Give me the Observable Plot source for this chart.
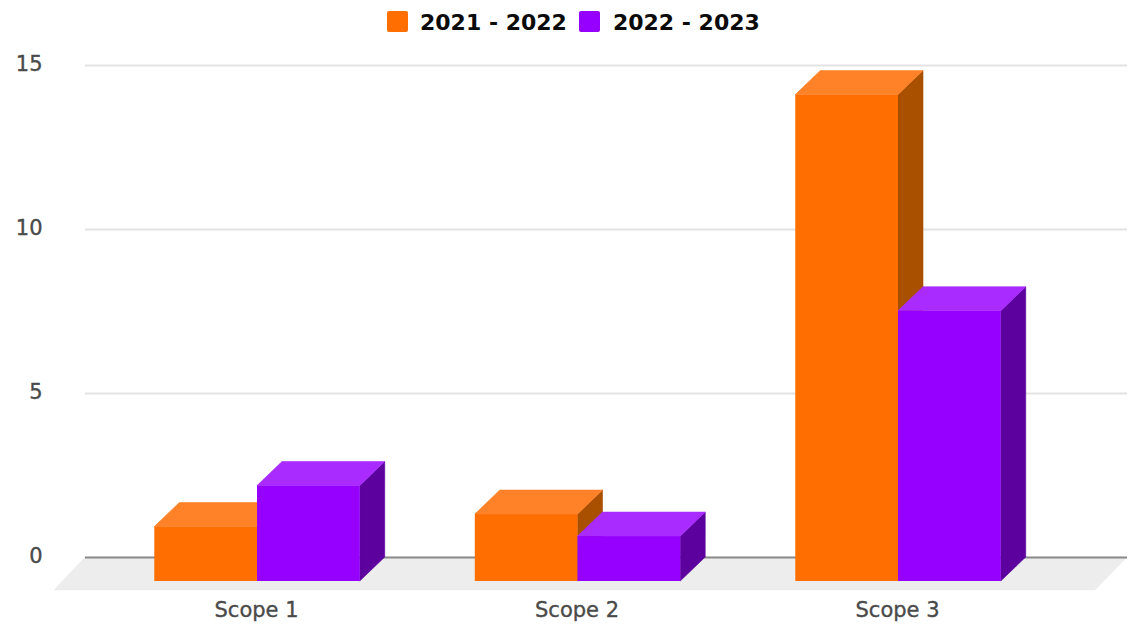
<!DOCTYPE html>
<html>
<head>
<meta charset="utf-8">
<script src="https://cdn.jsdelivr.net/npm/d3@7"></script>
<script src="https://cdn.jsdelivr.net/npm/@observablehq/plot@0.6"></script>
<style>
  html, body { margin: 0; padding: 0; background: #fff; }
  #legend { height: 44px; display: flex; align-items: center; padding-left: 387px; box-sizing: border-box;
    font: bold 22px "DejaVu Sans", sans-serif; color: #0b0b0b; }
  #legend i { display: block; width: 21px; height: 21px; border-radius: 2px; margin-right: 12px; margin-top: -1px; }
  #legend span { margin-right: 12px; white-space: nowrap; }
  #legend span:first-of-type { margin-right: 12px; }
  #legend i:nth-of-type(2) { margin-right: 13px; }
  #chart svg { display: block; }
  #chart svg text { stroke: #4a4a4a; stroke-width: 0.35px; }
</style>
</head>
<body>
<div id="legend"></div>
<div id="chart"></div>
<script>
const scopes = ["Scope 1", "Scope 2", "Scope 3"];
const seriesNames = ["2021 - 2022", "2022 - 2023"];
const values2122 = [1.66, 2.04, 14.83];
const values2223 = [2.91, 1.37, 8.24];
const yTicks = [0, 5, 10, 15];
const frontColors = ["#ff6e00", "#9500ff"];
const topColors = ["#ff8229", "#a92bff"];
const sideColors = ["#a84f00", "#5c009e"];

// each scope sits at its index on the x scale; each bar is this wide in x units
const barSpan = 0.3205;
const table = scopes.flatMap((scope, i) => seriesNames.map((series, s) => ({
  scope, series, s,
  x1: i + (s - 1) * barSpan,
  x2: i + s * barSpan,
  value: (s === 0 ? values2122 : values2223)[i]
})));

// depth of the 3D extrusion, in pixels
const depthX = 25, depthY = 24;

const svgNS = "http://www.w3.org/2000/svg";
function face(points, fill) {
  const p = document.createElementNS(svgNS, "polygon");
  p.setAttribute("points", points.map(d => d.join(",")).join(" "));
  p.setAttribute("fill", fill);
  p.setAttribute("stroke", fill);
  p.setAttribute("stroke-width", 0.6);
  return p;
}

const plot = Plot.plot({
  width: 1129,
  height: 586,
  marginTop: 21,
  marginBottom: 73,
  marginLeft: 85,
  marginRight: 2,
  style: {background: "transparent", overflow: "visible"},
  x: {domain: [-0.6147, 2.6365], axis: null},
  y: {domain: [0, 15], axis: null},
  color: {domain: seriesNames, range: frontColors},
  marks: [
    Plot.ruleY([0], {
      render(index, scales, values, dims) {
        const y0 = scales.y(0);
        const l = dims.marginLeft, r = dims.width - dims.marginRight;
        const g = document.createElementNS(svgNS, "g");
        g.appendChild(face([[l, y0], [r, y0], [r - 32, y0 + 33], [l - 31, y0 + 33]], "#ededed"));
        return g;
      }
    }),
    Plot.ruleY(yTicks.slice(1), {stroke: "#e3e3e3", strokeWidth: 2}),
    Plot.ruleY([0], {stroke: "#8a8a8a", strokeWidth: 2}),
    Plot.axisY(yTicks, {
      anchor: "left", tickSize: 0, tickPadding: 43, label: null,
      fontSize: 21, fontFamily: "DejaVu Sans", fill: "#4a4a4a", dy: -1
    }),
    Plot.axisX(scopes.map((d, i) => i), {
      anchor: "bottom", tickSize: 0, tickPadding: 45, label: null, dx: -26,
      tickFormat: i => scopes[i],
      fontSize: 21, fontFamily: "DejaVu Sans", fill: "#4a4a4a"
    }),
    Plot.rect(table, {
      x1: "x1",
      x2: "x2",
      y1: 0,
      y2: "value",
      fill: "series",
      dx: -depthX,
      dy: depthY,
      render(index, scales, values, dims, ctx, next) {
        const g = next(index, scales, values, dims, ctx);
        const rects = Array.from(g.querySelectorAll("rect"));
        rects.forEach((rect, k) => {
          const s = table[index[k]].s;
          const x = +rect.getAttribute("x"), y = +rect.getAttribute("y");
          const w = +rect.getAttribute("width"), h = +rect.getAttribute("height");
          const parent = rect.parentNode;
          parent.appendChild(face([[x + w, y], [x + w + depthX, y - depthY], [x + w + depthX, y + h - depthY], [x + w, y + h]], sideColors[s]));
          parent.appendChild(face([[x, y], [x + depthX, y - depthY], [x + w + depthX, y - depthY], [x + w, y]], topColors[s]));
          parent.appendChild(rect);
        });
        return g;
      }
    })
  ]
});
document.getElementById("chart").appendChild(plot);

const legend = d3.select("#legend");
seriesNames.forEach((name, i) => {
  legend.append("i").style("background", frontColors[i]);
  legend.append("span").text(name);
});
</script>
</body>
</html>
